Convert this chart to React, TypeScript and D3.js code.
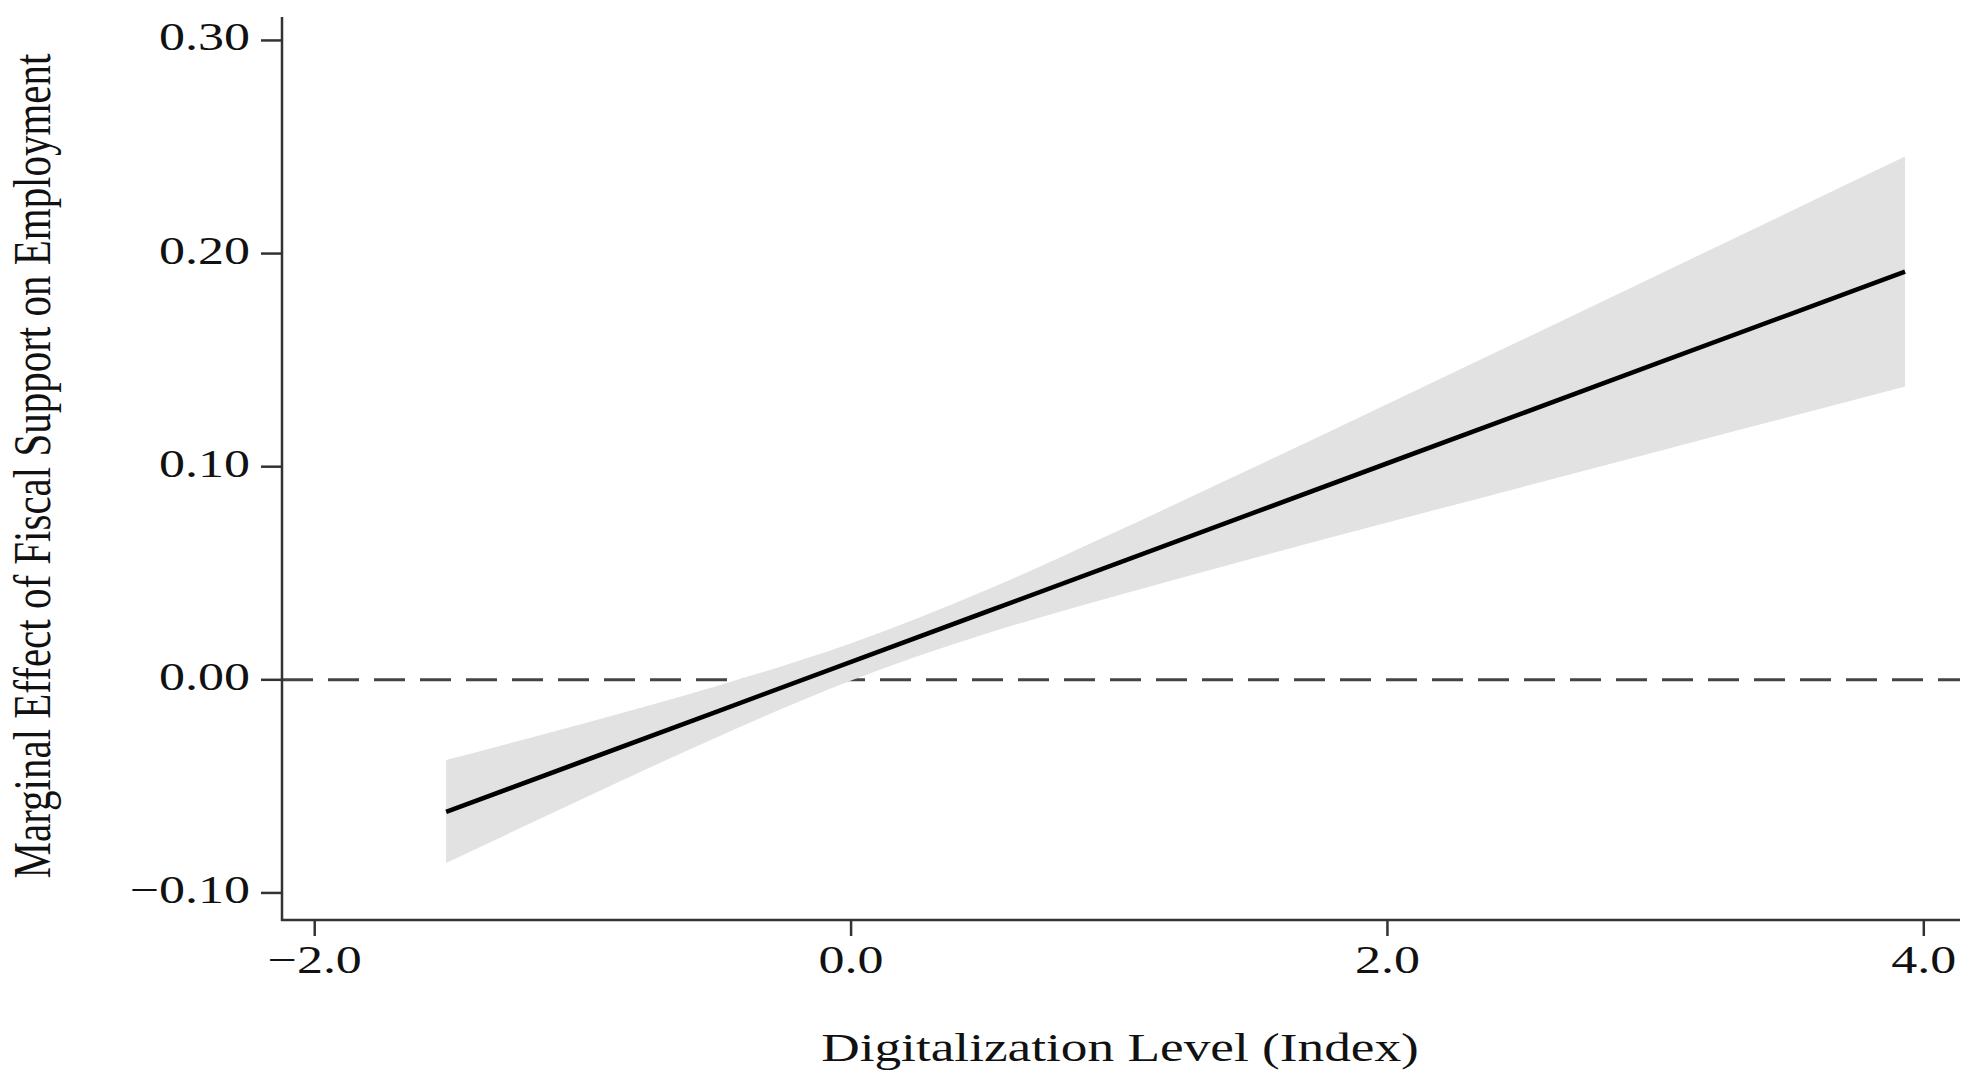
import React, { useEffect } from "react";
import * as d3 from "d3";

// values
const digitalization = [-1.51, -1.0, -0.5, 0, 0.5, 1.0, 1.5, 2.0, 2.5, 3.0, 3.5, 3.93];
const marginalEffect = [-0.062, -0.0382, -0.0149, 0.0084, 0.0317, 0.055, 0.0783, 0.1016, 0.1249, 0.1482, 0.1715, 0.1915];
const ciLower = [-0.086, -0.0558, -0.0269, -0.0003, 0.0215, 0.0398, 0.057, 0.0738, 0.0904, 0.1069, 0.1234, 0.1376];
const ciUpper = [-0.0376, -0.0206, -0.0029, 0.0171, 0.0419, 0.0702, 0.0996, 0.1294, 0.1594, 0.1895, 0.2196, 0.2455];

const xTicks = [-2, 0, 2, 4];
const xTickLabels = ["\u22122.0", "0.0", "2.0", "4.0"];
const yTicks = [-0.1, 0, 0.1, 0.2, 0.3];
const yTickLabels = ["\u22120.10", "0.00", "0.10", "0.20", "0.30"];

const W = 1982;
const H = 1081;
const FONT = "'Liberation Serif', 'Times New Roman', serif";
const TICK_FS = 40;
const TITLE_FS = 41;
const SX = 1.3; // the original figure is stretched sideways
const AXIS = "#333";

export default function App() {
  useEffect(() => {
    document.body.style.margin = "0";
    document.body.style.overflow = "hidden";
  }, []);

  const x = d3.scaleLinear().domain([-2.122, 4.135]).range([282, 1960]);
  const y = d3.scaleLinear().domain([-0.1127, 0.311]).range([920, 17]);

  const pts = digitalization.map((d, i) => ({
    x: d,
    est: marginalEffect[i],
    lo: ciLower[i],
    hi: ciUpper[i],
  }));

  const area = d3
    .area<any>()
    .curve(d3.curveMonotoneX)
    .x((d) => x(d.x))
    .y0((d) => y(d.lo))
    .y1((d) => y(d.hi));

  const line = d3
    .line<any>()
    .x((d) => x(d.x))
    .y((d) => y(d.est));

  const [x0, x1] = x.range();
  const [yBottom, yTop] = y.range();

  return (
    <svg width={W} height={H} style={{ display: "block", background: "#fff" }}>
      {/* zero reference */}
      <line
        x1={x0}
        x2={x1}
        y1={y(0)}
        y2={y(0)}
        stroke="#444"
        strokeWidth={3}
        strokeDasharray="31 15"
      />

      {/* confidence band */}
      <path d={area(pts) || ""} fill="#e2e2e2" stroke="none" />

      {/* marginal effect */}
      <path d={line(pts) || ""} fill="none" stroke="#000" strokeWidth={4.6} />

      {/* axes */}
      <line x1={x0} x2={x0} y1={yTop} y2={yBottom + 1} stroke={AXIS} strokeWidth={2.5} />
      <line x1={x0 - 1} x2={x1} y1={yBottom} y2={yBottom} stroke={AXIS} strokeWidth={2.5} />

      {yTicks.map((t, i) => (
        <g key={"y" + i}>
          <line x1={x0 - 21} x2={x0} y1={y(t)} y2={y(t)} stroke={AXIS} strokeWidth={2.5} />
          <text
            transform={`translate(${x0 - 32},${y(t) + 10}) scale(${SX},1)`}
            textAnchor="end"
            fontFamily={FONT}
            fontSize={TICK_FS}
            fill="#111"
          >
            {yTickLabels[i]}
          </text>
        </g>
      ))}

      {xTicks.map((t, i) => (
        <g key={"x" + i}>
          <line x1={x(t)} x2={x(t)} y1={yBottom} y2={yBottom + 16} stroke={AXIS} strokeWidth={2.5} />
          <text
            transform={`translate(${x(t)},${yBottom + 53}) scale(${SX},1)`}
            textAnchor="middle"
            fontFamily={FONT}
            fontSize={TICK_FS}
            fill="#111"
          >
            {xTickLabels[i]}
          </text>
        </g>
      ))}

      {/* axis titles */}
      <text
        transform={`translate(1120,1061) scale(${SX},1)`}
        textAnchor="middle"
        fontFamily={FONT}
        fontSize={TITLE_FS}
        fill="#111"
      >
        Digitalization Level (Index)
      </text>
      <text
        transform={`translate(50,466) scale(${SX},1) rotate(-90)`}
        textAnchor="middle"
        fontFamily={FONT}
        fontSize={TITLE_FS}
        fill="#111"
      >
        Marginal Effect of Fiscal Support on Employment
      </text>
    </svg>
  );
}
